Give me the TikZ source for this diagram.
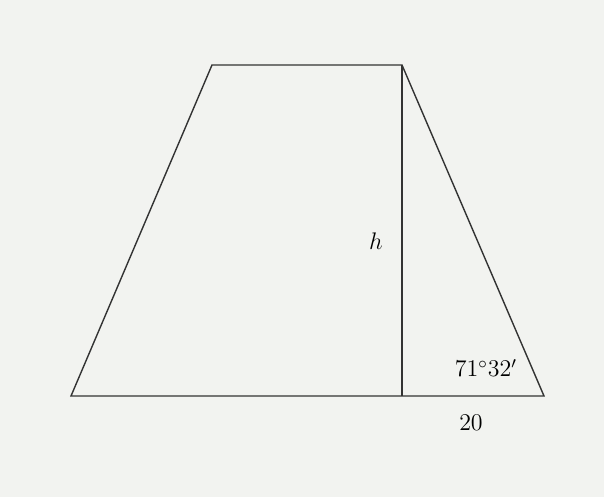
\documentclass[tikz,border=0pt]{standalone}
\definecolor{bg}{HTML}{F2F3F0}
\definecolor{ln}{HTML}{333333}
\tikzset{edge/.style={draw=ln,line width=0.7pt},lbl/.style={inner sep=0pt,font=\large}}
\begin{document}
\begin{tikzpicture}[x=0.5pt,y=-0.5pt]
\fill[bg] (0,0) rectangle (604,497);
\useasboundingbox (0,0) rectangle (604,497);
\coordinate (A) at (71,396);
\coordinate (B) at (544,396);
\coordinate (C) at (402,65);
\coordinate (D) at (212,65);
\coordinate (F) at (402,396);
\draw[edge,line join=miter] (A) -- (B) -- (C) -- (D) -- cycle;
\draw[edge] (C) -- (F);
\node[lbl] (h) at (376,241) {$h$};
\node[lbl] (ang) at (486,368) {$71^\circ 32'$};
\node[lbl] (b) at (471,423) {$20$};
\end{tikzpicture}
\end{document}
